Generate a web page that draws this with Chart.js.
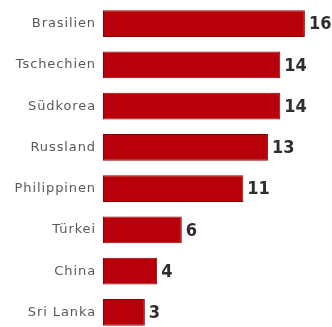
<!DOCTYPE html>
<html>
<head>
<meta charset="utf-8">
<script src="https://cdn.jsdelivr.net/npm/chart.js@4.4.1/dist/chart.umd.min.js"></script>
<style>
html,body{margin:0;padding:0;background:#fff;overflow:hidden;width:332px;height:327px;}
#wrap{position:absolute;left:0;top:0;width:332px;height:333px;}
</style>
</head>
<body>
<div id="wrap"><canvas id="c" width="332" height="333"></canvas></div>
<script>
const categories = ["Brasilien","Tschechien","Südkorea","Russland","Philippinen","Türkei","China","Sri Lanka"];
const values = [16,14,14,13,11,6,4,3];
const xMin = -0.4;
const xMax = 18;

const labelSpacing = {
  id: 'labelSpacing',
  beforeDraw(chart) { chart.ctx.letterSpacing = '0.9px'; },
  beforeDatasetsDraw(chart) { chart.ctx.letterSpacing = '0px'; }
};

const valueLabels = {
  id: 'valueLabels',
  afterDatasetsDraw(chart) {
    const ctx = chart.ctx;
    const meta = chart.getDatasetMeta(0);
    ctx.save();
    ctx.letterSpacing = '0px';
    ctx.font = 'bold 18px "DejaVu Sans Condensed", "Liberation Sans Narrow", sans-serif';
    ctx.fillStyle = '#2e2e2e';
    ctx.textAlign = 'left';
    ctx.textBaseline = 'middle';
    meta.data.forEach((bar, i) => {
      ctx.fillText(String(chart.data.datasets[0].data[i]), bar.x + 4, bar.y + 1);
    });
    ctx.restore();
  }
};

new Chart(document.getElementById('c'), {
  type: 'bar',
  data: {
    labels: categories,
    datasets: [{
      data: values,
      base: xMin,
      backgroundColor: '#b8000a',
      borderColor: '#8c0005',
      borderWidth: 1,
      borderSkipped: false,
      categoryPercentage: 1,
      barPercentage: 0.65
    }]
  },
  options: {
    indexAxis: 'y',
    responsive: false,
    animation: false,
    devicePixelRatio: 1,
    layout: { padding: { top: 3, bottom: 0, left: 0, right: 2.5 } },
    plugins: { legend: { display: false }, tooltip: { enabled: false } },
    scales: {
      x: {
        display: false,
        min: xMin,
        max: xMax
      },
      y: {
        afterFit(scale) { scale.width = 103; scale.paddingTop = 0; scale.paddingBottom = 0; },
        grid: { display: false, drawTicks: false },
        border: { display: false },
        ticks: {
          padding: 7,
          color: '#5a5a5a',
          font: { family: '"DejaVu Sans", sans-serif', size: 13 }
        }
      }
    }
  },
  plugins: [labelSpacing, valueLabels]
});
</script>
</body>
</html>
